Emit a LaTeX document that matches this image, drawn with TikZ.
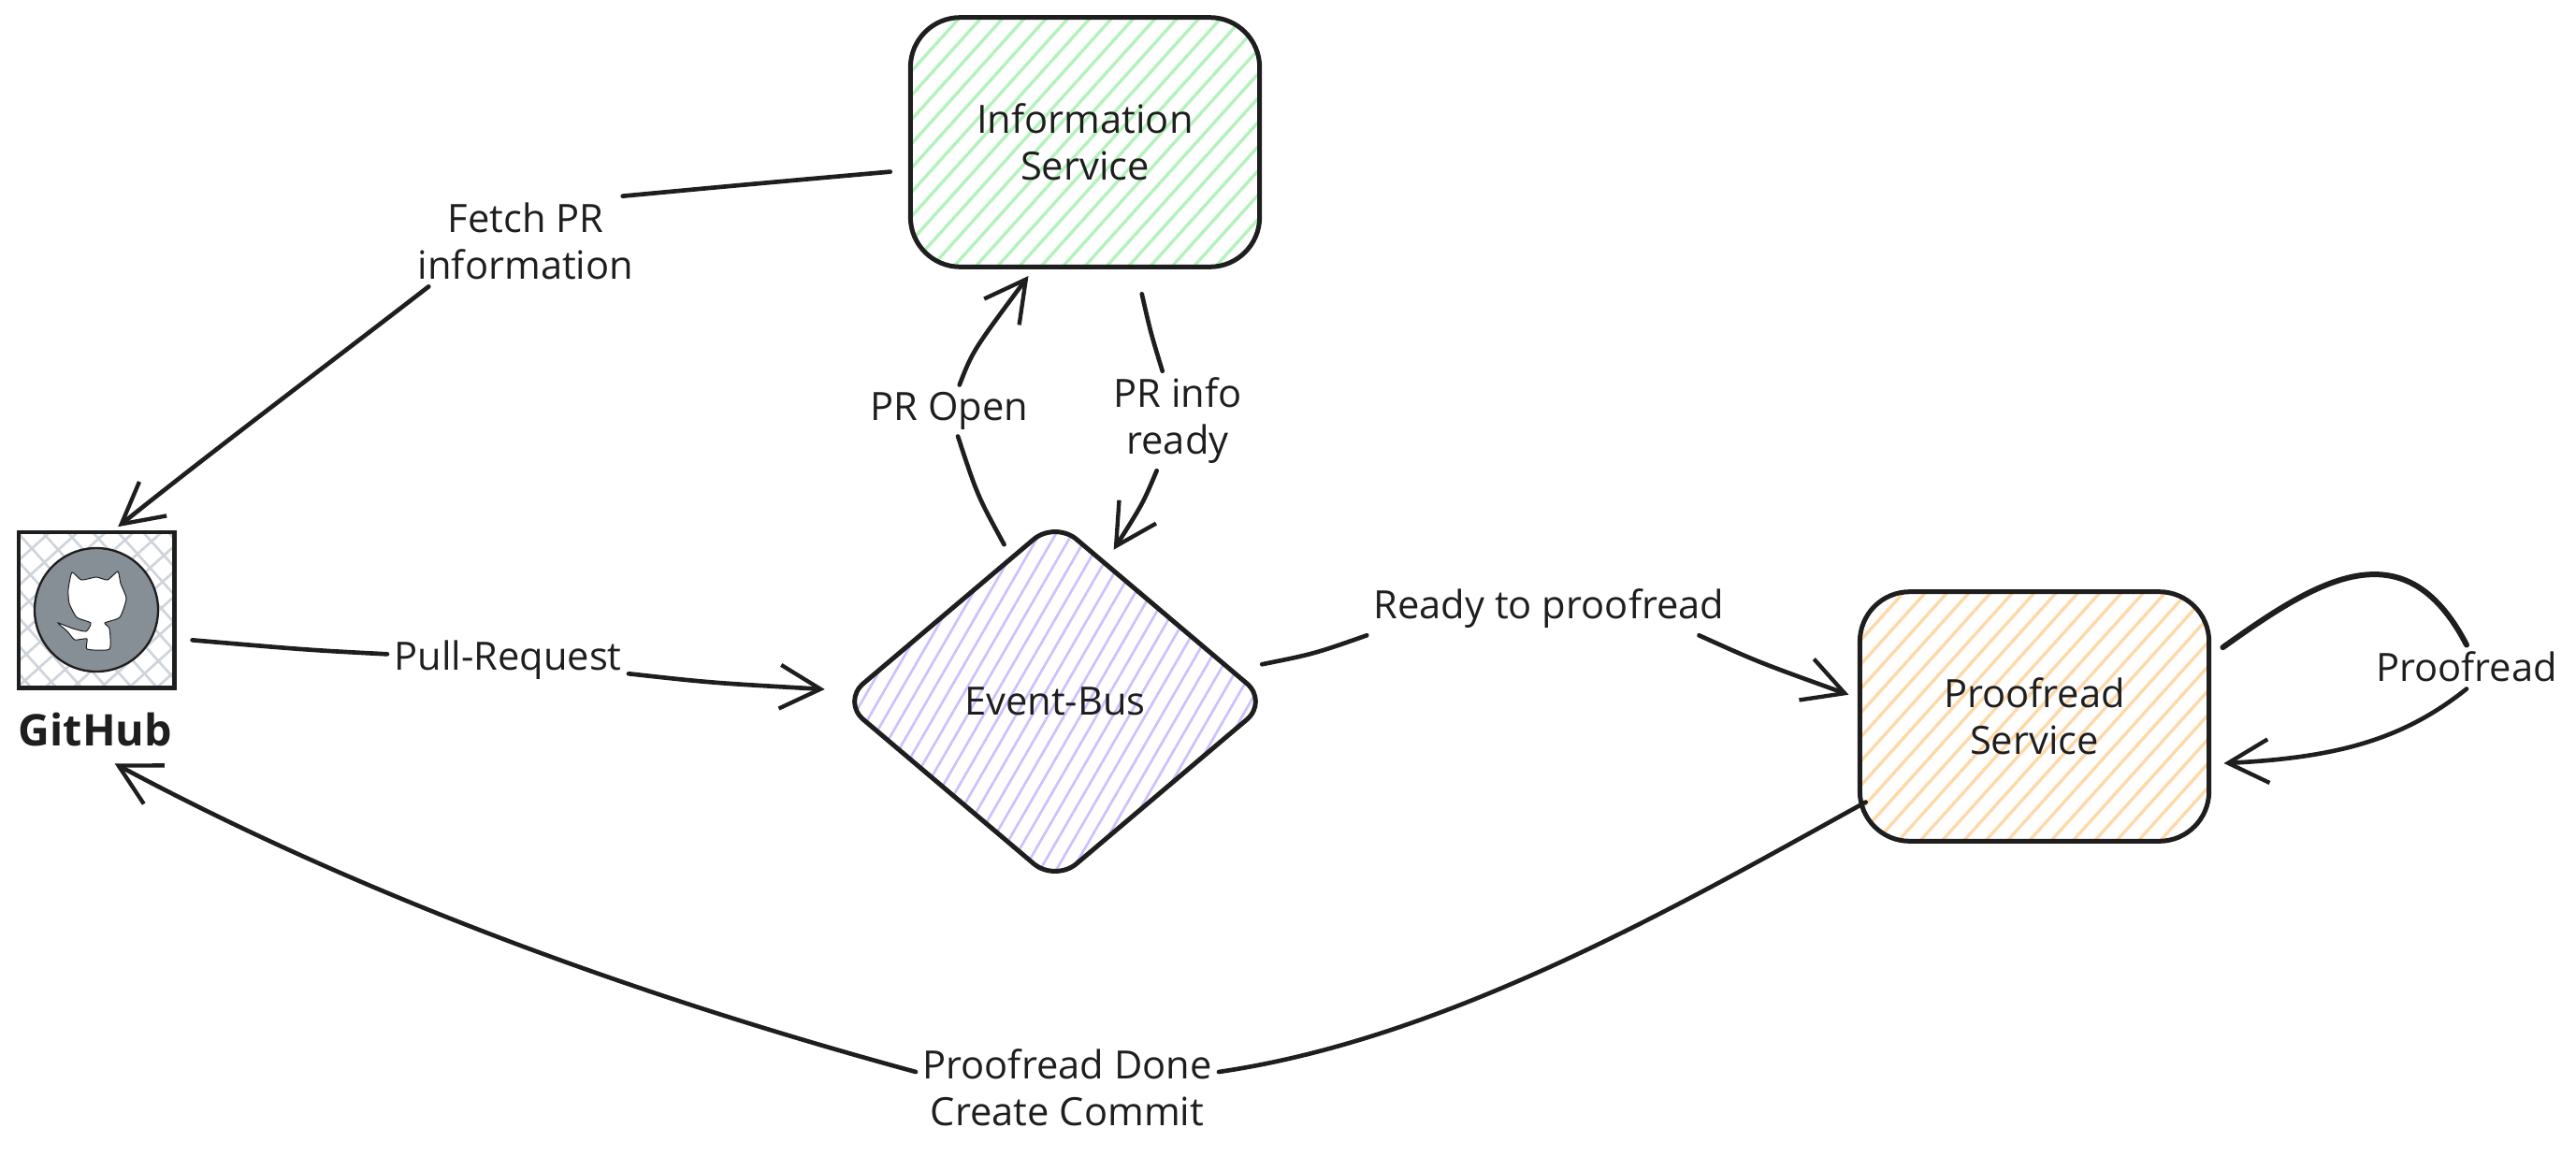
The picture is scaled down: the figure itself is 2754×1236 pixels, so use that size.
\documentclass[tikz,border=0pt]{standalone}
\usepackage{fontspec}
\setmainfont{Open Sans}
\usetikzlibrary{arrows.meta,patterns.meta,shapes.geometric}
\definecolor{ink}{HTML}{1E1E1E}
\definecolor{hgreen}{HTML}{B2F2BB}
\definecolor{hpurple}{HTML}{D0BFFF}
\definecolor{horange}{HTML}{FFD8A8}
\definecolor{hgrey}{HTML}{CED4DA}
\definecolor{octo}{HTML}{868E96}
\begin{document}
\begin{tikzpicture}[x=0.3pt,y=-0.3pt,
	box/.style={draw=ink,line width=1.5pt,rounded corners=16pt,minimum width=112pt,minimum height=80pt,inner sep=0pt,align=center,font=\fontsize{12.5}{15}\selectfont,text=ink},
	lbl/.style={inner sep=2pt,align=center,font=\fontsize{12.5}{15}\selectfont,text=ink},
	wire/.style={draw=ink,line width=1.4pt,line cap=round},
	arr/.style={wire,-{Straight Barb[length=13pt,width=14pt,line width=1.3pt]}}]
\useasboundingbox (0,0) rectangle (2754,1236);
\node [box,pattern={Lines[angle=48,distance=5.2pt,line width=1pt]},pattern color=hgreen] (info) at (1160,152) {Information\\Service};
\node [diamond,shape aspect=1.178,minimum width=137pt,minimum height=116pt,draw=ink,line width=1.5pt,rounded corners=9pt,inner sep=0pt,font=\fontsize{12.5}{15}\selectfont,text=ink,pattern={Lines[angle=60,distance=4.5pt,line width=.8pt]},pattern color=hpurple] (event) at (1128,750) {Event-Bus};
\node [box,pattern={Lines[angle=48,distance=5.2pt,line width=1pt]},pattern color=horange] (proof) at (2175,766) {Proofread\\Service};
\node [rectangle,draw=ink,line width=1.3pt,minimum width=50pt,minimum height=50pt,inner sep=0pt,pattern={Hatch[angle=42,distance=6pt,line width=.8pt]},pattern color=hgrey] (github) at (103,652) {};
\node [circle,draw=ink,line width=.7pt,fill=octo,minimum size=39.6pt,inner sep=0pt] (logo) at (github) {};
\fill [white,draw=ink,line width=.3pt] plot [smooth cycle,tension=.35] coordinates {(77,612) (87,620) (103,617) (115,620) (126,611) (129,624) (135,640) (128,660) (112,666) (117,672) (117,694) (93,694) (93,683) (80,684) (72,675) (62,666) (78,672) (92,675) (97,666) (82,660) (74,645) (73,630)};
\node [lbl,font=\fontsize{14}{15}\bfseries\selectfont] (gittext) at (102,780) {GitHub};
\node [lbl] (fetch) at (562,258) {Fetch PR\\information};
\node [lbl] (propen) at (1015,439) {PR Open};
\node [lbl] (prinfo) at (1259,450) {PR info\\ready};
\node [lbl] (pull) at (543,706) {Pull-Request};
\node [lbl] (ready) at (1656,651) {Ready to proofread};
\node [lbl] (loop) at (2637,713) {Proofread};
\node [lbl] (done) at (1141,1163) {Proofread Done\\Create Commit};
\draw [wire,shorten <=6pt] (info.189) .. controls (790,198) .. (fetch.25);
\draw [arr,shorten >=2pt] (fetch.205) .. controls (350,390) and (230,480) .. (github.78);
\draw [wire,shorten <=4.5pt] (event.107) .. controls (1045,530) .. (propen);
\draw [arr,shorten >=3pt] (propen) .. controls (1040,375) .. (info.248);
\draw [wire,shorten <=8.4pt] (info.292) .. controls (1230,355) .. (prinfo);
\draw [arr,shorten >=4.8pt] (prinfo) .. controls (1222,538) .. (event.70);
\draw [wire,shorten <=5.4pt] (github.-20) .. controls (330,695) .. (pull);
\draw [arr,shorten >=9pt] (pull) .. controls (760,730) .. (event.177);
\draw [wire,shorten <=9.5pt] (event.10) .. controls (1405,699) .. (ready.south west);
\draw [arr,shorten >=3pt] (ready.-10) .. controls (1880,708) .. (proof.174);
\draw [wire,line width=1.8pt,shorten <=4.5pt] (proof.19) .. controls (2475,622) and (2570,560) .. (loop.north);
\draw [arr,shorten >=4pt] (loop.south) .. controls (2570,790) and (2500,810) .. (proof.-15);
\draw [wire,shorten <=-3pt] (proof.207) .. controls (1800,965) and (1550,1110) .. (done.6);
\draw [arr,shorten >=7pt] (done.174) .. controls (700,1070) and (400,965) .. (gittext.south);
\end{tikzpicture}
\end{document}
